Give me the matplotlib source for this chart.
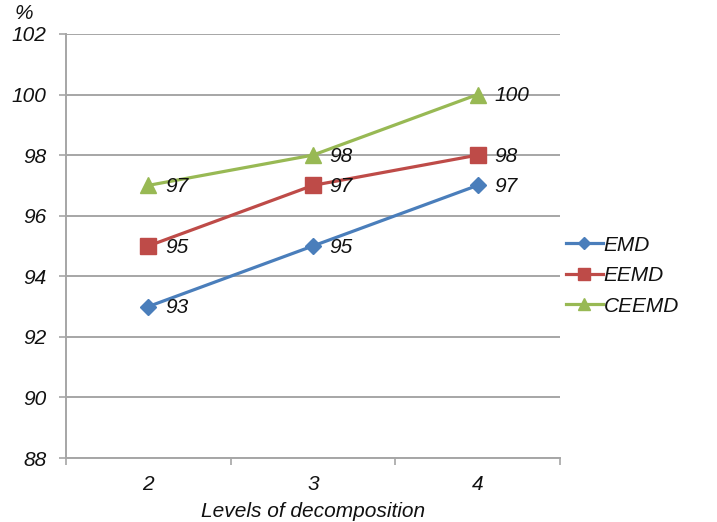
import matplotlib
matplotlib.use("Agg")
import matplotlib.pyplot as plt

levels = [2, 3, 4]
emd = [93, 95, 97]
eemd = [95, 97, 98]
ceemd = [97, 98, 100]
y_ticks = [88, 90, 92, 94, 96, 98, 100, 102]

plt.rcParams['font.family'] = ['Liberation Sans', 'DejaVu Sans']
plt.rcParams['font.style'] = 'italic'

FS = 15

fig = plt.figure(figsize=(7.17, 5.22), dpi=100)
ax = fig.add_axes([0.092, 0.1226, 0.689, 0.8124])

grid_c = '#a6a6a6'
series = [
    ('EMD', emd, '#4a7ebb', 'D', 8.5),
    ('EEMD', eemd, '#be4b48', 's', 11.5),
    ('CEEMD', ceemd, '#98b954', '^', 11),
]
for name, vals, col, mk, ms in series:
    ax.plot(levels, vals, color=col, lw=2.3, marker=mk, ms=ms, label=name,
            markeredgecolor=col, zorder=3)
    for x, v in zip(levels, vals):
        ax.annotate(f'{v}', (x, v), xytext=(12, -1), textcoords='offset points',
                    ha='left', va='center', fontsize=FS, style='italic', color='#111111')

ax.set_xlim(1.5, 4.5)
ax.set_ylim(88, 102)
ax.set_yticks(y_ticks)
ax.set_xticks(levels)
ax.set_xticks([1.5, 2.5, 3.5, 4.5], minor=True)
ax.tick_params(axis='x', which='major', length=0, pad=12, labelsize=FS, labelcolor='#111111')
ax.tick_params(axis='x', which='minor', length=5, width=1.2, color=grid_c, direction='out')
ax.tick_params(axis='y', length=5, width=1.2, color=grid_c, direction='out', pad=9,
               labelsize=FS, labelcolor='#111111')
ax.yaxis.grid(True, color=grid_c, lw=1.4)
ax.set_axisbelow(True)
for s in ['top', 'right']:
    ax.spines[s].set_visible(False)
ax.spines['left'].set_color(grid_c)
ax.spines['left'].set_linewidth(1.4)
ax.spines['bottom'].set_color(grid_c)
ax.spines['bottom'].set_linewidth(1.4)

ax.set_xlabel('Levels of decomposition', fontsize=FS, style='italic', labelpad=6,
              color='#111111')
fig.text(0.02, 0.955, '%', fontsize=FS, style='italic', ha='left', va='bottom',
         color='#111111')

ax.legend(loc='center left', bbox_to_anchor=(1.0, 0.43), frameon=False,
          fontsize=FS, handlelength=1.75, handletextpad=0.05, labelspacing=0.55,
          borderaxespad=0.1, borderpad=0.2, markerscale=0.75, labelcolor='#111111')

fig.savefig('out.png', dpi=100)
